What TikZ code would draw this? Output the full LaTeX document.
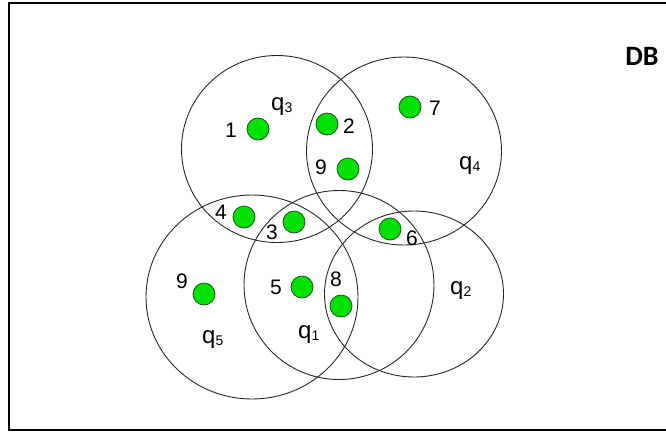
\documentclass[tikz,border=0pt]{standalone}
\usepackage{fontspec}
\setmainfont{Liberation Sans}
\newfontfamily\dbfont{Carlito}
\usetikzlibrary{calc,positioning}
\definecolor{dotgreen}{RGB}{0,225,0}
\definecolor{dotedge}{RGB}{25,85,25}
\definecolor{ringgray}{RGB}{40,40,40}
\newcommand{\qlab}[1]{q\raisebox{-2pt}{\fontsize{14}{14}\selectfont #1}}
\tikzset{
  ring/.style={draw=ringgray, line width=0.9pt},
  obj/.style={circle, fill=dotgreen, draw=dotedge, line width=0.8pt, minimum size=22pt, inner sep=0pt},
  qname/.style={anchor=base west, font=\fontsize{24}{24}\selectfont}
}

\begin{document}
\begin{tikzpicture}[x=1pt, y=-1pt, every node/.style={font=\fontsize{21}{21}\selectfont, inner sep=0pt}]
\useasboundingbox (0,0) rectangle (666,432);

% FRAME (right side runs off the page)
\draw[line width=2pt] (667,2.5) -- (8.5,2.5) -- (8.5,430) -- (667,430);
\node[font=\dbfont\bfseries\fontsize{28}{28}\selectfont] (db) at (642,56) {DB};

% query regions
\draw[ring] (277,149) ellipse [x radius=95.5, y radius=93.5];  % q3
\draw[ring] (404,151) ellipse [x radius=97.5, y radius=94];    % q4
\draw[ring] (252,297) ellipse [x radius=106, y radius=102];    % q5
\draw[ring] (339,285) ellipse [x radius=95, y radius=94.5];    % q1
\draw[ring] (414,294) ellipse [x radius=89.5, y radius=83];    % q2

\node[qname] (q3) at (271,110) {\qlab{3}};
\node[qname] (q4) at (459,169) {\qlab{4}};
\node[qname] (q5) at (202,343) {\qlab{5}};
\node[qname] (q1) at (298,338) {\qlab{1}};
\node[qname] (q2) at (450,294) {\qlab{2}};

% objects, top row
\node[obj] (o1) at (258,129) {};
\node at (231,130) (n1) {1};
\node[obj] (o2) at (327,124) {};
\node at (349,126) (n2) {2};
\node[obj] (o9a) at (348,169) {};
\node at (321,167) (n9a) {9};
\node[obj] (o7) at (410,107) {};
\node at (435,108) (n7) {7};

% objects, middle row
\node[obj] (o4) at (244,217) {};
\node at (221,212) (n4) {4};
\node[obj] (o3) at (294,222) {};
\node at (272,232) (n3) {3};
\node[obj] (o6) at (390,229) {};
\node at (412,238) (n6) {6};

% objects, bottom row
\node[obj] (o9b) at (204,294) {};
\node at (182,281) (n9b) {9};
\node[obj] (o5) at (302,287) {};
\node at (276,287) (n5) {5};
\node[obj] (o8) at (341,306) {};
\node at (336,279) (n8) {8};

\end{tikzpicture}
\end{document}
